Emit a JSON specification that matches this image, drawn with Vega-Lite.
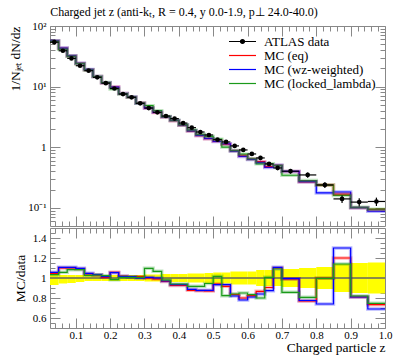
{
  "$schema": "https://vega.github.io/schema/vega-lite/v6.json",
  "padding": {"left": 8, "top": 5, "right": 3, "bottom": 5},
  "config": {
    "font": "Liberation Serif",
    "view": {"stroke": "#888", "strokeWidth": 1},
    "axis": {"grid": false, "domain": false, "tickColor": "#888", "tickWidth": 1, "labelFont": "Liberation Serif", "labelFontSize": 11, "labelColor": "black", "titleFont": "Liberation Serif", "titleFontWeight": "normal", "titleFontSize": 13.5, "titleColor": "black"}
  },
  "title": {"text": "Charged jet z (anti-kₜ, R = 0.4, y 0.0-1.9, p⊥ 24.0-40.0)", "anchor": "start", "fontSize": 12, "fontWeight": "normal", "font": "Liberation Serif", "offset": 1, "dx": 42},
  "datasets": {
    "bins": [
      {"b":1,"x0":0.025,"x1":0.05,"xc":0.0375,"data":54,"dlo":50.2,"dhi":55.9,"eq":56.5,"wz":57.1,"ll":55.8,"req":1.047,"rwz":1.057,"rll":1.033,"blo":0.93,"bhi":1.035},
      {"b":2,"x0":0.05,"x1":0.075,"xc":0.0625,"data":39,"dlo":36.9,"dhi":40.2,"eq":42.9,"wz":43.2,"ll":41.2,"req":1.10,"rwz":1.107,"rll":1.057,"blo":0.945,"bhi":1.03},
      {"b":3,"x0":0.075,"x1":0.1,"xc":0.0875,"data":29.2,"dlo":27.7,"dhi":30.1,"eq":32.1,"wz":32.3,"ll":31.6,"req":1.10,"rwz":1.107,"rll":1.083,"blo":0.95,"bhi":1.03},
      {"b":4,"x0":0.1,"x1":0.125,"xc":0.1125,"data":22.1,"dlo":21.2,"dhi":22.8,"eq":24.1,"wz":24.2,"ll":23.9,"req":1.09,"rwz":1.097,"rll":1.083,"blo":0.96,"bhi":1.03},
      {"b":5,"x0":0.125,"x1":0.15,"xc":0.1375,"data":18.3,"dlo":17.75,"dhi":18.85,"eq":19.0,"wz":19.2,"ll":18.8,"req":1.04,"rwz":1.047,"rll":1.027,"blo":0.97,"bhi":1.03},
      {"b":6,"x0":0.15,"x1":0.175,"xc":0.1625,"data":14.2,"dlo":13.77,"dhi":14.63,"eq":14.63,"wz":14.67,"ll":14.63,"req":1.03,"rwz":1.033,"rll":1.03,"blo":0.97,"bhi":1.03},
      {"b":7,"x0":0.175,"x1":0.2,"xc":0.1875,"data":11.4,"dlo":11.06,"dhi":11.74,"eq":11.48,"wz":11.55,"ll":11.66,"req":1.007,"rwz":1.013,"rll":1.023,"blo":0.97,"bhi":1.03},
      {"b":8,"x0":0.2,"x1":0.225,"xc":0.2125,"data":9.3,"dlo":9.02,"dhi":9.58,"eq":9.83,"wz":9.79,"ll":9.14,"req":1.057,"rwz":1.053,"rll":0.983,"blo":0.97,"bhi":1.03},
      {"b":9,"x0":0.225,"x1":0.25,"xc":0.2375,"data":7.53,"dlo":7.30,"dhi":7.76,"eq":7.66,"wz":7.66,"ll":7.58,"req":1.017,"rwz":1.017,"rll":1.007,"blo":0.97,"bhi":1.03},
      {"b":10,"x0":0.25,"x1":0.275,"xc":0.2625,"data":6.64,"dlo":6.44,"dhi":6.84,"eq":6.69,"wz":6.73,"ll":6.69,"req":1.007,"rwz":1.013,"rll":1.007,"blo":0.97,"bhi":1.03},
      {"b":11,"x0":0.275,"x1":0.3,"xc":0.2875,"data":5.29,"dlo":5.13,"dhi":5.45,"eq":5.36,"wz":5.29,"ll":5.33,"req":1.013,"rwz":1.0,"rll":1.007,"blo":0.97,"bhi":1.03},
      {"b":12,"x0":0.3,"x1":0.325,"xc":0.3125,"data":4.42,"dlo":4.27,"dhi":4.57,"eq":4.42,"wz":4.45,"ll":4.85,"req":1.0,"rwz":1.007,"rll":1.097,"blo":0.965,"bhi":1.035},
      {"b":13,"x0":0.325,"x1":0.35,"xc":0.3375,"data":3.76,"dlo":3.63,"dhi":3.89,"eq":3.72,"wz":3.76,"ll":4.01,"req":0.99,"rwz":1.0,"rll":1.067,"blo":0.965,"bhi":1.035},
      {"b":14,"x0":0.35,"x1":0.375,"xc":0.3625,"data":3.27,"dlo":3.14,"dhi":3.40,"eq":3.16,"wz":3.17,"ll":3.20,"req":0.965,"rwz":0.97,"rll":0.98,"blo":0.96,"bhi":1.04},
      {"b":15,"x0":0.375,"x1":0.4,"xc":0.3875,"data":2.96,"dlo":2.84,"dhi":3.08,"eq":2.74,"wz":2.76,"ll":2.78,"req":0.925,"rwz":0.933,"rll":0.94,"blo":0.96,"bhi":1.04},
      {"b":16,"x0":0.4,"x1":0.425,"xc":0.4125,"data":2.50,"dlo":2.40,"dhi":2.60,"eq":2.31,"wz":2.33,"ll":2.35,"req":0.925,"rwz":0.933,"rll":0.94,"blo":0.96,"bhi":1.04},
      {"b":17,"x0":0.425,"x1":0.45,"xc":0.4375,"data":2.10,"dlo":2.01,"dhi":2.19,"eq":1.842,"wz":1.863,"ll":1.926,"req":0.877,"rwz":0.887,"rll":0.917,"blo":0.955,"bhi":1.045},
      {"b":18,"x0":0.45,"x1":0.475,"xc":0.4625,"data":1.78,"dlo":1.70,"dhi":1.86,"eq":1.554,"wz":1.561,"ll":1.632,"req":0.873,"rwz":0.877,"rll":0.917,"blo":0.955,"bhi":1.045},
      {"b":19,"x0":0.475,"x1":0.5,"xc":0.4875,"data":1.59,"dlo":1.51,"dhi":1.67,"eq":1.383,"wz":1.394,"ll":1.503,"req":0.87,"rwz":0.877,"rll":0.945,"blo":0.95,"bhi":1.05},
      {"b":20,"x0":0.5,"x1":0.525,"xc":0.5125,"data":1.33,"dlo":1.26,"dhi":1.40,"eq":1.250,"wz":1.241,"ll":1.353,"req":0.94,"rwz":0.933,"rll":1.017,"blo":0.945,"bhi":1.055},
      {"b":21,"x0":0.525,"x1":0.55,"xc":0.5375,"data":1.22,"dlo":1.15,"dhi":1.29,"eq":1.119,"wz":1.138,"ll":1.004,"req":0.917,"rwz":0.933,"rll":0.823,"blo":0.945,"bhi":1.055},
      {"b":22,"x0":0.55,"x1":0.575,"xc":0.5625,"data":1.05,"dlo":0.98,"dhi":1.12,"eq":0.877,"wz":0.861,"ll":0.882,"req":0.835,"rwz":0.82,"rll":0.84,"blo":0.935,"bhi":1.065},
      {"b":23,"x0":0.575,"x1":0.6,"xc":0.5875,"data":0.90,"dlo":0.84,"dhi":0.96,"eq":0.720,"wz":0.702,"ll":0.765,"req":0.80,"rwz":0.78,"rll":0.85,"blo":0.935,"bhi":1.065},
      {"b":24,"x0":0.6,"x1":0.625,"xc":0.6125,"data":0.773,"dlo":0.723,"dhi":0.823,"eq":0.636,"wz":0.626,"ll":0.644,"req":0.823,"rwz":0.81,"rll":0.833,"blo":0.935,"bhi":1.065},
      {"b":25,"x0":0.625,"x1":0.65,"xc":0.6375,"data":0.664,"dlo":0.611,"dhi":0.717,"eq":0.576,"wz":0.558,"ll":0.531,"req":0.867,"rwz":0.84,"rll":0.80,"blo":0.92,"bhi":1.08},
      {"b":26,"x0":0.65,"x1":0.675,"xc":0.6625,"data":0.529,"dlo":0.487,"dhi":0.571,"eq":0.479,"wz":0.462,"ll":0.533,"req":0.905,"rwz":0.873,"rll":1.007,"blo":0.92,"bhi":1.08},
      {"b":27,"x0":0.675,"x1":0.7,"xc":0.6875,"data":0.454,"dlo":0.418,"dhi":0.490,"eq":0.499,"wz":0.503,"ll":0.495,"req":1.10,"rwz":1.107,"rll":1.09,"blo":0.92,"bhi":1.08},
      {"b":28,"x0":0.7,"x1":0.75,"xc":0.725,"data":0.401,"dlo":0.365,"dhi":0.437,"eq":0.397,"wz":0.398,"ll":0.344,"req":0.99,"rwz":0.993,"rll":0.857,"blo":0.91,"bhi":1.09},
      {"b":29,"x0":0.75,"x1":0.8,"xc":0.775,"data":0.348,"dlo":0.313,"dhi":0.383,"eq":0.268,"wz":0.270,"ll":0.281,"req":0.77,"rwz":0.775,"rll":0.807,"blo":0.9,"bhi":1.1},
      {"b":30,"x0":0.8,"x1":0.85,"xc":0.825,"data":0.238,"dlo":0.212,"dhi":0.264,"eq":0.237,"wz":0.176,"ll":0.237,"req":0.997,"rwz":0.74,"rll":0.997,"blo":0.89,"bhi":1.11},
      {"b":31,"x0":0.85,"x1":0.9,"xc":0.875,"data":0.140,"dlo":0.120,"dhi":0.160,"eq":0.168,"wz":0.182,"ll":0.160,"req":1.20,"rwz":1.30,"rll":1.14,"blo":0.86,"bhi":1.14},
      {"b":32,"x0":0.9,"x1":0.95,"xc":0.925,"data":0.124,"dlo":0.105,"dhi":0.143,"eq":0.100,"wz":0.100,"ll":0.102,"req":0.81,"rwz":0.81,"rll":0.82,"blo":0.85,"bhi":1.15},
      {"b":33,"x0":0.95,"x1":1.0,"xc":0.975,"data":0.127,"dlo":0.107,"dhi":0.147,"eq":0.0931,"wz":0.0876,"ll":0.0949,"req":0.733,"rwz":0.69,"rll":0.747,"blo":0.845,"bhi":1.155}
    ]
  },
  "spacing": 0,
  "resolve": {"scale": {"color": "independent"}},
  "vconcat": [
    {
      "width": 335,
      "height": 200,
      "data": {"name": "bins"},
      "resolve": {"axis": {"x": "independent", "y": "independent"}},
      "layer": [
        {
          "transform": [{"fold": ["eq", "wz", "ll"], "as": ["mc", "val"]}, {"fold": ["x0", "x1"], "as": ["edge", "xv"]}],
          "mark": {"type": "line", "strokeWidth": 1.2},
          "encoding": {
            "x": {"field": "xv", "type": "quantitative", "scale": {"domain": [0.025, 1.0], "nice": false, "zero": false},
              "axis": {"orient": "bottom", "title": null, "labels": false,
                "values": [0.04,0.06,0.08,0.1,0.12,0.14,0.16,0.18,0.2,0.22,0.24,0.26,0.28,0.3,0.32,0.34,0.36,0.38,0.4,0.42,0.44,0.46,0.48,0.5,0.52,0.54,0.56,0.58,0.6,0.62,0.64,0.66,0.68,0.7,0.72,0.74,0.76,0.78,0.8,0.82,0.84,0.86,0.88,0.9,0.92,0.94,0.96,0.98],
                "tickSize": {"condition": {"test": "abs(datum.value*10 - round(datum.value*10)) < 0.001", "value": -10}, "value": -5}}},
            "y": {"field": "val", "type": "quantitative", "scale": {"type": "log", "domain": [0.05, 100], "nice": false},
              "axis": {"orient": "left", "title": "1/Nⱼₑₜ dN/dz", "titleAnchor": "end", "titlePadding": 5,
                "values": [0.06,0.07,0.08,0.09,0.1,0.2,0.3,0.4,0.5,0.6,0.7,0.8,0.9,1,2,3,4,5,6,7,8,9,10,20,30,40,50,60,70,80,90,100],
                "labelExpr": "datum.value == 100 ? '10²' : datum.value == 10 ? '10¹' : datum.value == 1 ? '1' : datum.value == 0.1 ? '10⁻¹' : ''",
                "labelPadding": 14,
                "tickSize": {"condition": {"test": "indexof([0.1,1,10,100], datum.value) >= 0", "value": -10}, "value": -5}}},
            "color": {"field": "mc", "type": "nominal",
              "legend": {"orient": "none", "legendX": 186, "legendY": 9, "title": null, "padding": 0,
                "symbolType": "M-2.7,0H2.7", "symbolSize": 100, "symbolStrokeWidth": 1.2, "symbolOpacity": 1,
                "labelFontSize": 13, "labelFont": "Liberation Serif", "labelColor": "black", "rowPadding": 0, "labelOffset": 15,
                "labelExpr": "datum.label == 'data' ? 'ATLAS data' : datum.label == 'eq' ? 'MC (eq)' : datum.label == 'wz' ? 'MC (wz-weighted)' : 'MC (locked_lambda)'",
                "encoding": {"symbols": {
                  "shape": {"condition": {"test": "datum.value == 'data'", "value": "M-2.7,0H2.7M0.4,0A0.4,0.4,0,1,1,-0.4,0A0.4,0.4,0,1,1,0.4,0Z"}, "value": "M-2.7,0H2.7"},
                  "fill": {"condition": {"test": "datum.value == 'data'", "value": "black"}, "value": "transparent"},
                  "opacity": {"value": 1},
                  "strokeWidth": {"value": 1.2}}}},
              "scale": {"domain": ["data", "eq", "wz", "ll"], "range": ["black", "#ff0000", "#0000ff", "#1a9a1a"]}},
            "order": [{"field": "b"}, {"field": "edge"}]
          }
        },
        {
          "transform": [{"fold": ["eq", "wz", "ll"], "as": ["mc", "val"]}, {"fold": ["x0", "x1"], "as": ["edge", "xv"]}],
          "mark": {"type": "line", "strokeWidth": 3.5, "opacity": 0.28},
          "encoding": {
            "x": {"field": "xv", "type": "quantitative",
              "axis": {"orient": "top", "title": null, "labels": false,
                "values": [0.04,0.06,0.08,0.1,0.12,0.14,0.16,0.18,0.2,0.22,0.24,0.26,0.28,0.3,0.32,0.34,0.36,0.38,0.4,0.42,0.44,0.46,0.48,0.5,0.52,0.54,0.56,0.58,0.6,0.62,0.64,0.66,0.68,0.7,0.72,0.74,0.76,0.78,0.8,0.82,0.84,0.86,0.88,0.9,0.92,0.94,0.96,0.98],
                "tickSize": {"condition": {"test": "abs(datum.value*10 - round(datum.value*10)) < 0.001", "value": -10}, "value": -5}}},
            "y": {"field": "val", "type": "quantitative",
              "axis": {"orient": "right", "title": null, "labels": false,
                "values": [0.06,0.07,0.08,0.09,0.1,0.2,0.3,0.4,0.5,0.6,0.7,0.8,0.9,1,2,3,4,5,6,7,8,9,10,20,30,40,50,60,70,80,90,100],
                "tickSize": {"condition": {"test": "indexof([0.1,1,10,100], datum.value) >= 0", "value": -10}, "value": -5}}},
            "color": {"field": "mc", "type": "nominal", "scale": {"domain": ["data", "eq", "wz", "ll"], "range": ["black", "#ff0000", "#0000ff", "#1a9a1a"]}},
            "order": [{"field": "b"}, {"field": "edge"}]
          }
        },
        {
          "mark": {"type": "rule", "color": "black", "strokeWidth": 1.2},
          "encoding": {
            "x": {"field": "x0", "type": "quantitative", "axis": null},
            "x2": {"field": "x1"},
            "y": {"field": "data", "type": "quantitative", "axis": null}
          }
        },
        {
          "mark": {"type": "rule", "color": "black", "strokeWidth": 1.2},
          "encoding": {
            "x": {"field": "xc", "type": "quantitative", "axis": null},
            "y": {"field": "dlo", "type": "quantitative", "axis": null},
            "y2": {"field": "dhi"}
          }
        },
        {
          "mark": {"type": "point", "filled": true, "color": "black", "size": 22, "opacity": 1},
          "encoding": {
            "x": {"field": "xc", "type": "quantitative", "axis": null},
            "y": {"field": "data", "type": "quantitative", "axis": null}
          }
        }
      ]
    },
    {
      "width": 335,
      "height": 100,
      "data": {"name": "bins"},
      "resolve": {"axis": {"x": "independent", "y": "independent"}},
      "layer": [
        {
          "mark": {"type": "rect", "color": "#ffff00", "opacity": 1},
          "encoding": {
            "x": {"field": "x0", "type": "quantitative", "scale": {"domain": [0.025, 1.0], "nice": false, "zero": false},
              "axis": {"orient": "bottom", "title": "Charged particle z", "titleAnchor": "end", "titlePadding": 0,
                "values": [0.04,0.06,0.08,0.1,0.12,0.14,0.16,0.18,0.2,0.22,0.24,0.26,0.28,0.3,0.32,0.34,0.36,0.38,0.4,0.42,0.44,0.46,0.48,0.5,0.52,0.54,0.56,0.58,0.6,0.62,0.64,0.66,0.68,0.7,0.72,0.74,0.76,0.78,0.8,0.82,0.84,0.86,0.88,0.9,0.92,0.94,0.96,0.98,1.0],
                "labelExpr": "abs(datum.value*10 - round(datum.value*10)) < 0.001 ? format(datum.value, '.1f') : ''",
                "labelPadding": 11, "labelFlush": false,
                "tickSize": {"condition": {"test": "abs(datum.value*10 - round(datum.value*10)) < 0.001", "value": -10}, "value": -5}}},
            "x2": {"field": "x1"},
            "y": {"field": "blo", "type": "quantitative", "scale": {"domain": [0.5, 1.5], "nice": false, "zero": false},
              "axis": {"orient": "left", "title": "MC/data", "titlePadding": 5,
                "values": [0.55,0.6,0.65,0.7,0.75,0.8,0.85,0.9,0.95,1,1.05,1.1,1.15,1.2,1.25,1.3,1.35,1.4,1.45],
                "labelExpr": "abs(datum.value*5 - round(datum.value*5)) < 0.001 ? (datum.value == 1 ? '1' : format(datum.value, '.1f')) : ''",
                "labelPadding": 14,
                "tickSize": {"condition": {"test": "abs(datum.value*5 - round(datum.value*5)) < 0.001", "value": -10}, "value": -5}}},
            "y2": {"field": "bhi"}
          }
        },
        {
          "mark": {"type": "rule", "color": "#8a8a4a", "strokeWidth": 1},
          "encoding": {
            "y": {"datum": 1, "type": "quantitative",
              "axis": {"orient": "right", "title": null, "labels": false,
                "values": [0.55,0.6,0.65,0.7,0.75,0.8,0.85,0.9,0.95,1,1.05,1.1,1.15,1.2,1.25,1.3,1.35,1.4,1.45],
                "tickSize": {"condition": {"test": "abs(datum.value*5 - round(datum.value*5)) < 0.001", "value": -10}, "value": -5}}}
          }
        },
        {
          "transform": [{"fold": ["req", "rwz", "rll"], "as": ["mc", "val"]}, {"fold": ["x0", "x1"], "as": ["edge", "xv"]}],
          "mark": {"type": "line", "strokeWidth": 3.5, "opacity": 0.28},
          "encoding": {
            "x": {"field": "xv", "type": "quantitative",
              "axis": {"orient": "top", "title": null, "labels": false,
                "values": [0.04,0.06,0.08,0.1,0.12,0.14,0.16,0.18,0.2,0.22,0.24,0.26,0.28,0.3,0.32,0.34,0.36,0.38,0.4,0.42,0.44,0.46,0.48,0.5,0.52,0.54,0.56,0.58,0.6,0.62,0.64,0.66,0.68,0.7,0.72,0.74,0.76,0.78,0.8,0.82,0.84,0.86,0.88,0.9,0.92,0.94,0.96,0.98],
                "tickSize": {"condition": {"test": "abs(datum.value*10 - round(datum.value*10)) < 0.001", "value": -10}, "value": -5}}},
            "y": {"field": "val", "type": "quantitative", "axis": null},
            "color": {"field": "mc", "type": "nominal", "scale": {"domain": ["req", "rwz", "rll"], "range": ["#ff0000", "#0000ff", "#1a9a1a"]}, "legend": null},
            "order": [{"field": "b"}, {"field": "edge"}]
          }
        },
        {
          "transform": [{"fold": ["req", "rwz", "rll"], "as": ["mc", "val"]}, {"fold": ["x0", "x1"], "as": ["edge", "xv"]}],
          "mark": {"type": "line", "strokeWidth": 1.2},
          "encoding": {
            "x": {"field": "xv", "type": "quantitative", "axis": null},
            "y": {"field": "val", "type": "quantitative", "axis": null},
            "color": {"field": "mc", "type": "nominal", "legend": null},
            "order": [{"field": "b"}, {"field": "edge"}]
          }
        }
      ]
    }
  ]
}
